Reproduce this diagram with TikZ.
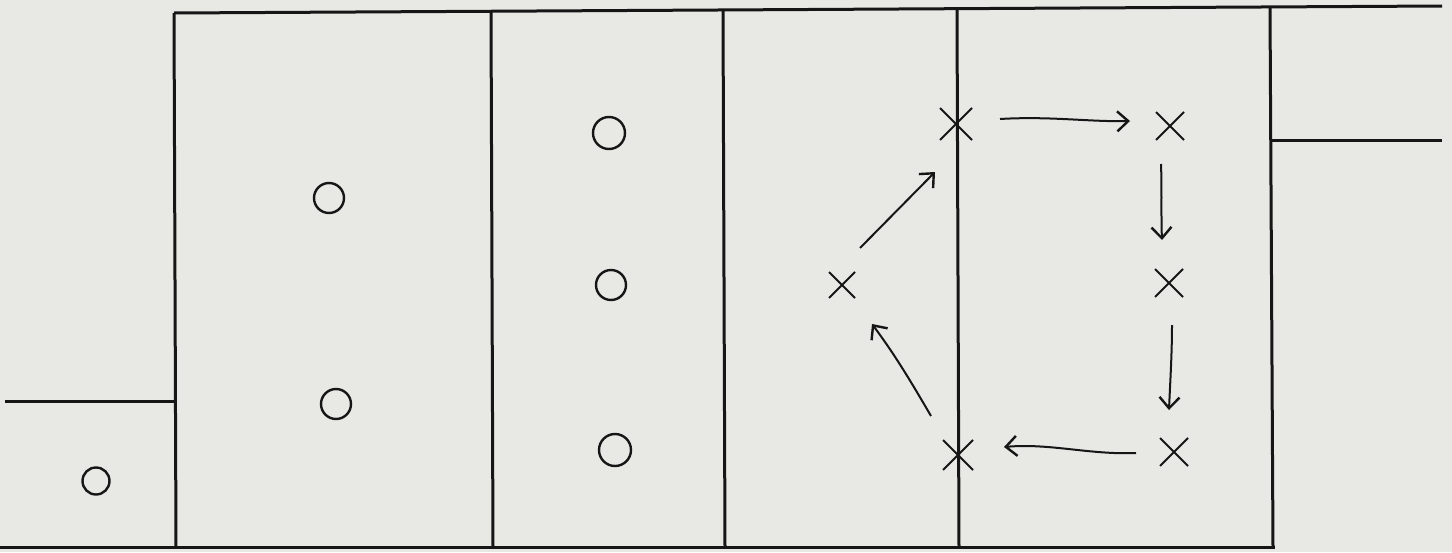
\documentclass[tikz,border=0pt]{standalone}
\usetikzlibrary{arrows.meta,shapes.misc}
\definecolor{paper}{RGB}{232,232,229}
\definecolor{ink}{RGB}{22,22,22}
\begin{document}
\begin{tikzpicture}[x=1pt,y=-1pt,
  frame/.style={draw=ink,line width=3pt},
  ring/.style={circle,draw=ink,line width=2.4pt,minimum size=30pt,inner sep=0pt},
  xmark/.style={cross out,draw=ink,line width=2pt,minimum size=26pt,inner sep=0pt},
  flow/.style={draw=ink,line width=2pt,-{Straight Barb[length=11pt,width=20pt,line width=2.4pt]}}]
\fill[paper] (0,0) rectangle (1452,552);
\useasboundingbox (0,0) rectangle (1452,552);
% frame
\draw[frame] (174,13) -- (1442,6);
\draw[frame] (0,547) -- (1275,547);
\draw[frame] (174,13) -- (176,547);
\draw[frame] (491,12) -- (493,547);
\draw[frame] (723,11) -- (725,547);
\draw[frame] (957,9) -- (959,547);
\draw[frame] (1270,7) -- (1273,547);
\draw[frame] (5,401) -- (176,401);
\draw[frame] (1272,140) -- (1442,140);
% circles
\node[ring,minimum size=27pt] (c0) at (96,481) {};
\node[ring] (c1) at (329,198) {};
\node[ring] (c2) at (336,404) {};
\node[ring,minimum size=32pt] (c3) at (609,133) {};
\node[ring] (c4) at (611,285) {};
\node[ring,minimum size=32pt] (c5) at (615,450) {};
% crosses
\node[xmark,minimum size=30pt] (x1) at (956,124) {};
\node[xmark] (x2) at (1170,126) {};
\node[xmark,minimum size=24pt] (x3) at (842,285) {};
\node[xmark] (x4) at (1169,283) {};
\node[xmark,minimum size=28pt] (x5) at (958,455) {};
\node[xmark] (x6) at (1174,452) {};
% arrow ends
\coordinate (a1s) at (1000,119); \coordinate (a1e) at (1130,121);
\coordinate (a2s) at (1161,164); \coordinate (a2e) at (1162,240);
\coordinate (a3s) at (1172,325); \coordinate (a3e) at (1169,410);
\coordinate (a4s) at (1136,453); \coordinate (a4e) at (1004,447);
\coordinate (a5s) at (931,416); \coordinate (a5e) at (872,324);
\coordinate (a6s) at (860,248); \coordinate (a6e) at (935,172);
\draw[flow] (a1s) .. controls (1050,116) and (1090,122) .. (a1e);
\draw[flow] (a2s) .. controls (1162,190) and (1161,215) .. (a2e);
\draw[flow] (a3s) .. controls (1172,355) and (1170,385) .. (a3e);
\draw[flow] (a4s) .. controls (1090,455) and (1050,443) .. (a4e);
\draw[flow] (a5s) .. controls (910,380) and (895,355) .. (a5e);
\draw[flow] (a6s) -- (a6e);
\end{tikzpicture}
\end{document}
